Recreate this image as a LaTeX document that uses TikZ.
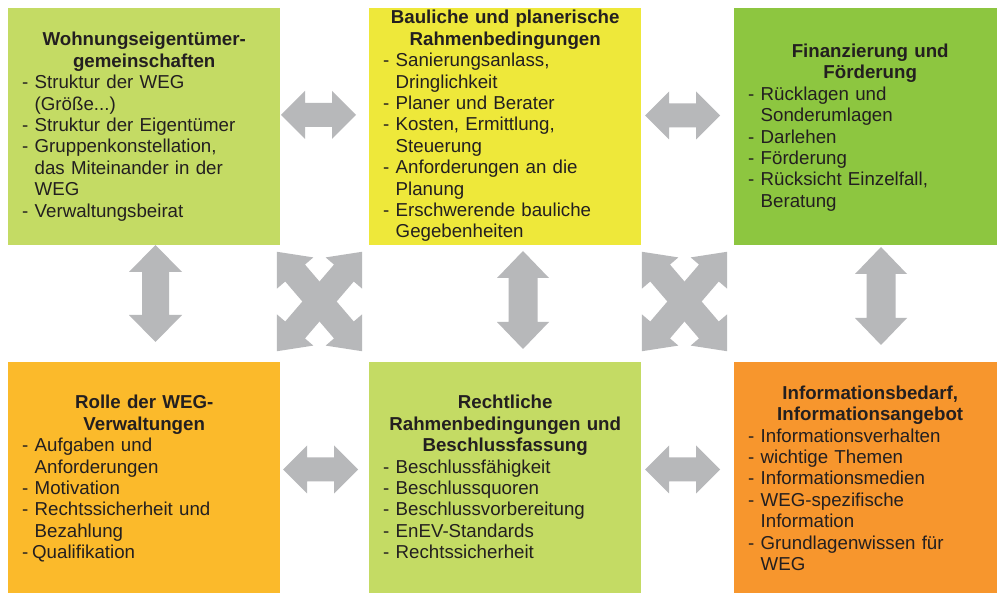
\documentclass[tikz,border=0pt]{standalone}
\usepackage{fontspec}
\setmainfont{Liberation Sans}
\definecolor{cLight}{HTML}{C4DB64}
\definecolor{cYellow}{HTML}{EEE83A}
\definecolor{cGreen}{HTML}{8DC640}
\definecolor{cGold}{HTML}{FBBA2B}
\definecolor{cOrange}{HTML}{F7962D}
\definecolor{arrowgray}{HTML}{B7B8BA}
\definecolor{ink}{HTML}{231F20}
\newcommand\blockarrow[6]{%
  \fill[arrowgray, shift={(#1)}, rotate=#2]
    (-#3,0) -- (-#3+#4,#5) -- (-#3+#4,#6) -- (#3-#4,#6) -- (#3-#4,#5) -- (#3,0)
    -- (#3-#4,-#5) -- (#3-#4,-#6) -- (-#3+#4,-#6) -- (-#3+#4,-#5) -- cycle;}
\newcommand\boxttl[1]{{\centering\bfseries #1\par}}
\newcommand\itemA[1]{\par\noindent\mbox{\makebox[12.5pt][l]{-}#1}}
\newcommand\itemQ[1]{\par\noindent\mbox{\makebox[10pt][l]{-}#1}}
\newcommand\itemC[1]{\par\noindent\mbox{\hspace*{12.5pt}#1}}
\tikzset{
  box/.style={minimum width=272pt, minimum height=237pt, inner sep=0pt, draw=none},
  txt/.style={text width=244pt, inner sep=0pt, anchor=base west, text=ink,
    font=\fontsize{18.7}{21.4}\selectfont, align=left}
}
\begin{document}
\begin{tikzpicture}[x=1pt,y=-1pt]
\useasboundingbox (0,0) rectangle (997,593);
\clip (0,0) rectangle (997,593);
\fill[white] (0,0) rectangle (997,593);
% boxes
\node[box, fill=cLight]  (b1) at (144,126.5) {};
\node[box, fill=cYellow] (b2) at (505,126.5) {};
\node[box, fill=cGreen]  (b3) at (870,126.5) {};
\node[box, fill=cGold]   (b4) at (144,480.5) {};
\node[box, fill=cLight]  (b5) at (505,480.5) {};
\node[box, fill=cOrange] (b6) at (870,480.5) {};
% texts
\node[txt] (t1) at (22,46) {\boxttl{Wohnungseigentümer-\\gemeinschaften}%
  \itemA{Struktur der WEG}\itemC{(Größe...)}\itemA{Struktur der Eigentümer}%
  \itemA{Gruppenkonstellation,}\itemC{das Miteinander in der}\itemC{WEG}\itemA{Verwaltungsbeirat}};
\node[txt] (t2) at (383,24) {\boxttl{Bauliche und planerische\\Rahmenbedingungen}%
  \itemA{Sanierungsanlass,}\itemC{Dringlichkeit}\itemA{Planer und Berater}%
  \itemA{Kosten, Ermittlung,}\itemC{Steuerung}\itemA{Anforderungen an die}\itemC{Planung}%
  \itemA{Erschwerende bauliche}\itemC{Gegebenheiten}};
\node[txt] (t3) at (748,57.5) {\boxttl{Finanzierung und\\Förderung}%
  \itemA{Rücklagen und}\itemC{Sonderumlagen}\itemA{Darlehen}\itemA{Förderung}%
  \itemA{Rücksicht Einzelfall,}\itemC{Beratung}};
\node[txt] (t4) at (22,409) {\boxttl{Rolle der WEG-\\Verwaltungen}%
  \itemA{Aufgaben und}\itemC{Anforderungen}\itemA{Motivation}%
  \itemA{Rechtssicherheit und}\itemC{Bezahlung}\itemQ{Qualifikation}};
\node[txt] (t5) at (383,409) {\boxttl{Rechtliche\\Rahmenbedingungen und\\Beschlussfassung}%
  \itemA{Beschlussfähigkeit}\itemA{Beschlussquoren}\itemA{Beschlussvorbereitung}%
  \itemA{EnEV-Standards}\itemA{Rechtssicherheit}};
\node[txt] (t6) at (748,399.3) {\boxttl{Informationsbedarf,\\Informationsangebot}%
  \itemA{Informationsverhalten}\itemA{wichtige Themen}\itemA{Informationsmedien}%
  \itemA{WEG-spezifische}\itemC{Information}\itemA{Grundlagenwissen für}\itemC{WEG}};
% arrow centres
\coordinate (h12) at (318.5,115);
\coordinate (h23) at (682.5,115.5);
\coordinate (h45) at (320.5,469.5);
\coordinate (h56) at (682.5,469.5);
\coordinate (v14) at (155.5,293.5);
\coordinate (v25) at (523,300);
\coordinate (v36) at (881,296);
\coordinate (xL) at (319.5,301.5);
\coordinate (xR) at (684.5,301.5);
% horizontal arrows
\blockarrow{h12}{0}{37.5}{24}{24}{12}
\blockarrow{h23}{0}{37.5}{24}{24}{12}
\blockarrow{h45}{0}{37.5}{24}{24}{12}
\blockarrow{h56}{0}{37.5}{24}{24}{12}
% vertical arrows
\blockarrow{v14}{90}{48.5}{27}{26.5}{13.5}
\blockarrow{v25}{90}{49}{27}{26}{14.5}
\blockarrow{v36}{90}{49}{27}{26}{14.5}
% crossing arrows
\blockarrow{xL}{49.4}{65.5}{28}{24}{13}
\blockarrow{xL}{-49.4}{65.5}{28}{24}{13}
\blockarrow{xR}{49.4}{65.5}{28}{24}{13}
\blockarrow{xR}{-49.4}{65.5}{28}{24}{13}
\end{tikzpicture}
\end{document}
